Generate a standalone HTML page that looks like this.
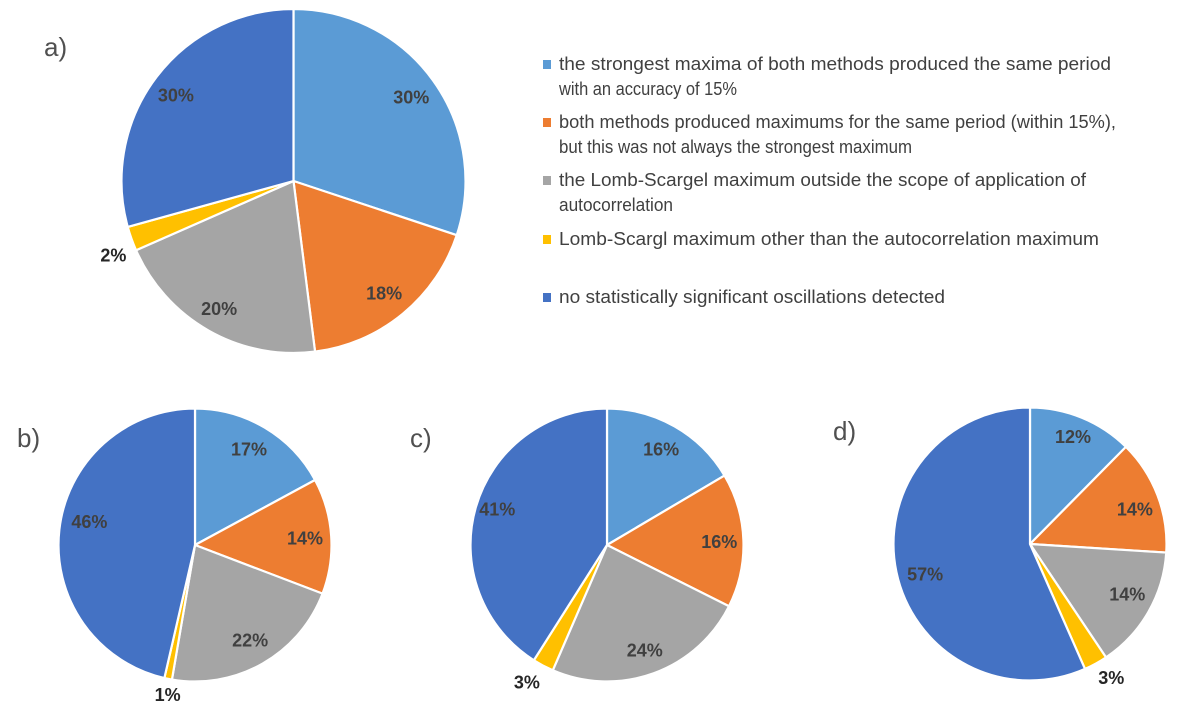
<!DOCTYPE html>
<html lang="en">
<head>
<meta charset="utf-8">
<title>Pie charts a-d</title>
<style>
html,body{margin:0;padding:0;background:#fff;width:1200px;height:724px;overflow:hidden}
svg{display:block}
text{font-family:"Liberation Sans",sans-serif}
.legend-text{font-size:18px;fill:#404040}
.panel{font-size:26px;fill:#505050}
.val{font-size:18px;font-weight:bold;fill:#404040;text-anchor:middle}
.val.out{fill:#262626}
</style>
</head>
<body>
<svg id="chart" xmlns="http://www.w3.org/2000/svg" width="1200" height="724" viewBox="0 0 1200 724">
  <text class="panel" x="44" y="56">a)</text>
  <text class="panel" x="17" y="447">b)</text>
  <text class="panel" x="410" y="447">c)</text>
  <text class="panel" x="833" y="440">d)</text>

  <g>
    <g>
      <rect x="543" y="60" width="8" height="9" fill="#5B9BD5"/>
      <text class="legend-text" x="559" y="70" textLength="552" lengthAdjust="spacingAndGlyphs">the strongest maxima of both methods produced the same period</text>
      <text class="legend-text" x="559" y="95" textLength="178" lengthAdjust="spacingAndGlyphs">with an accuracy of 15%</text>
    </g>
    <g>
      <rect x="543" y="118" width="8" height="9" fill="#ED7D31"/>
      <text class="legend-text" x="559" y="128" textLength="557" lengthAdjust="spacingAndGlyphs">both methods produced maximums for the same period (within 15%),</text>
      <text class="legend-text" x="559" y="153" textLength="353" lengthAdjust="spacingAndGlyphs">but this was not always the strongest maximum</text>
    </g>
    <g>
      <rect x="543" y="176" width="8" height="9" fill="#A5A5A5"/>
      <text class="legend-text" x="559" y="186" textLength="527" lengthAdjust="spacingAndGlyphs">the Lomb-Scargel maximum outside the scope of application of</text>
      <text class="legend-text" x="559" y="211" textLength="114" lengthAdjust="spacingAndGlyphs">autocorrelation</text>
    </g>
    <g>
      <rect x="543" y="235" width="8" height="9" fill="#FFC000"/>
      <text class="legend-text" x="559" y="245" textLength="540" lengthAdjust="spacingAndGlyphs">Lomb-Scargl maximum other than the autocorrelation maximum</text>
    </g>
    <g>
      <rect x="543" y="293" width="8" height="9" fill="#4472C4"/>
      <text class="legend-text" x="559" y="303" textLength="386" lengthAdjust="spacingAndGlyphs">no statistically significant oscillations detected</text>
    </g>
  </g>
</svg>
<script>
const categories = ['same-period', 'both-methods', 'outside-scope', 'other-maximum', 'no-oscillations'];

const valuesA = [30.1, 17.9, 20.4, 2.3, 29.3];
const valuesB = [17.1, 13.7, 21.9, 0.9, 46.4];
const valuesC = [16.5, 15.9, 24.1, 2.5, 41.0];
const valuesD = [12.4, 13.6, 14.6, 2.8, 56.6];

const printedA = ['30%', '18%', '20%', '2%', '30%'];
const printedB = ['17%', '14%', '22%', '1%', '46%'];
const printedC = ['16%', '16%', '24%', '3%', '41%'];
const printedD = ['12%', '14%', '14%', '3%', '57%'];

const SVG_NS = 'http://www.w3.org/2000/svg';
const svg = document.getElementById('chart');

function sliceColor(i) {
  return ['#5B9BD5', '#ED7D31', '#A5A5A5', '#FFC000', '#4472C4'][i];
}
function angleOf(cumulative, total) {
  return cumulative / total * 2 * Math.PI;
}
function polar(cx, cy, r, a) {
  return [cx + r * Math.sin(a), cy - r * Math.cos(a)];
}
function drawPie(name, values, printed, cx, cy, r, nudges) {
  const group = document.createElementNS(SVG_NS, 'g');
  
  
  svg.appendChild(group);
  const total = values.reduce(function (s, v) { return s + v; }, 0);
  let cumulative = 0;
  const labelQueue = [];
  values.forEach(function (v, i) {
    const a0 = angleOf(cumulative, total);
    const a1 = angleOf(cumulative + v, total);
    const p0 = polar(cx, cy, r, a0);
    const p1 = polar(cx, cy, r, a1);
    const large = (a1 - a0) > Math.PI ? 1 : 0;
    const path = document.createElementNS(SVG_NS, 'path');
    path.setAttribute('d', 'M' + cx + ' ' + cy + 'L' + p0[0] + ' ' + p0[1] + 'A' + r + ' ' + r + ' 0 ' + large + ' 1 ' + p1[0] + ' ' + p1[1] + 'Z');
    path.setAttribute('fill', sliceColor(i));
    path.setAttribute('stroke', '#fff');
    path.setAttribute('stroke-width', '2.2');
    path.setAttribute('stroke-linejoin', 'round');
    
    
    group.appendChild(path);
    labelQueue.push({ mid: (a0 + a1) / 2, share: v / total, text: printed[i], cat: categories[i], nudge: nudges[i] });
    cumulative += v;
  });
  labelQueue.forEach(function (item) {
    const outside = item.share < 0.04;
    const p = polar(cx, cy, r * (outside ? 1.13 : 0.83), item.mid);
    const t = document.createElementNS(SVG_NS, 'text');
    t.setAttribute('class', outside ? 'val out' : 'val');
    t.setAttribute('x', p[0] + item.nudge[0]);
    t.setAttribute('y', p[1] + 6 + item.nudge[1]);
    
    
    t.textContent = item.text;
    group.appendChild(t);
  });
}
drawPie('a', valuesA, printedA, 293.5, 181, 172, [[2, 0], [0, 2], [-4, 4], [3, 9], [-4, 1]]);
drawPie('b', valuesB, printedB, 195, 545, 136.5, [[-4, 2], [-3, 1], [-1, -3], [3, -1], [7, -10]]);
drawPie('c', valuesC, printedC, 607, 545, 136.5, [[-2, 3], [-1, 1], [-1, -1], [-8, 1], [-1, -4]]);
drawPie('d', valuesD, printedD, 1030, 544, 136.5, [[0, -2], [-1, 6], [-1, -6], [7, -1], [6, 7]]);
</script>
</body>
</html>
